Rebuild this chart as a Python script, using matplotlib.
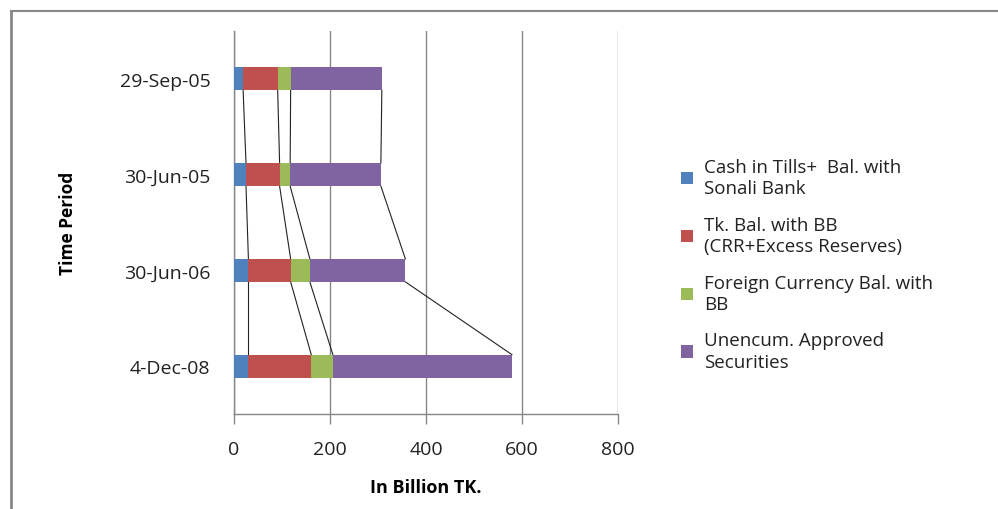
import matplotlib
matplotlib.use("Agg")
import matplotlib.pyplot as plt
from matplotlib.lines import Line2D
import numpy as np

plt.rcParams['font.family'] = ['Open Sans', 'DejaVu Sans']

categories = ["29-Sep-05", "30-Jun-05", "30-Jun-06", "4-Dec-08"]
series_names = ["Cash in Tills+  Bal. with\nSonali Bank",
                "Tk. Bal. with BB\n(CRR+Excess Reserves)",
                "Foreign Currency Bal. with\nBB",
                "Unencum. Approved\nSecurities"]
cash = [19, 25, 30, 30]
tk_bal = [72, 70, 88, 131]
fc_bal = [27, 22, 40, 45]
securities = [190, 189, 199, 373]
colors = ["#4F81BD", "#C0504D", "#9BBB59", "#8064A2"]
xticks = [0, 200, 400, 600, 800]

fig = plt.figure(figsize=(9.98, 5.10), dpi=100)
ax = fig.add_axes([234/998, 1-415/510, (618-234)/998, (415-32)/510])

series = [cash, tk_bal, fc_bal, securities]
y = np.arange(len(categories))
bw = 0.24
left = np.zeros(len(categories))
cums = []
for vals, col, name in zip(series, colors, series_names):
    vals = np.array(vals, dtype=float)
    ax.barh(y, vals, left=left, height=bw, color=col, label=name, zorder=3)
    left = left + vals
    cums.append(left.copy())

# series lines
for c in cums:
    for i in range(len(categories) - 1):
        ax.plot([c[i], c[i+1]], [y[i] + bw/2, y[i+1] - bw/2], color="#222222",
                lw=0.8, zorder=2)

ax.set_xlim(0, 800)
ax.set_ylim(len(categories) - 0.5, -0.5)
ax.set_xticks(xticks)
ax.set_xticklabels([str(v) for v in xticks], fontsize=14, color="#222222")
ax.set_yticks(y)
ax.set_yticklabels(categories, fontsize=14, color="#222222")
ax.tick_params(axis='y', length=0, pad=17)
ax.tick_params(axis='x', length=7, width=1, color="#868686", pad=12, direction='out')
ax.grid(axis='x', color="#868686", lw=1, zorder=0)
for s in ['top', 'right']:
    ax.spines[s].set_visible(False)
for s in ['left', 'bottom']:
    ax.spines[s].set_color("#868686")
    ax.spines[s].set_linewidth(1)

ax.set_xlabel("In Billion TK.", fontsize=13, fontweight='bold', labelpad=14)
ax.set_ylabel("Time Period", fontsize=12.5, fontweight='bold', labelpad=31)

leg = fig.legend(loc='upper left', bbox_to_anchor=(664/998, 1-142/510), frameon=False,
                 fontsize=13.5, handlelength=0.65, handleheight=0.65, handletextpad=0.6,
                 labelspacing=0.98)
for t in leg.get_texts():
    t.set_linespacing(1.25)
    t.set_color("#222222")

# chart frame
fig.add_artist(Line2D([11/998, 11/998], [0, 1-12/510], transform=fig.transFigure,
                      color="#888888", lw=2))
fig.add_artist(Line2D([11/998, 1], [1-12/510, 1-12/510], transform=fig.transFigure,
                      color="#888888", lw=1.5))

fig.savefig("out.png", dpi=100)
